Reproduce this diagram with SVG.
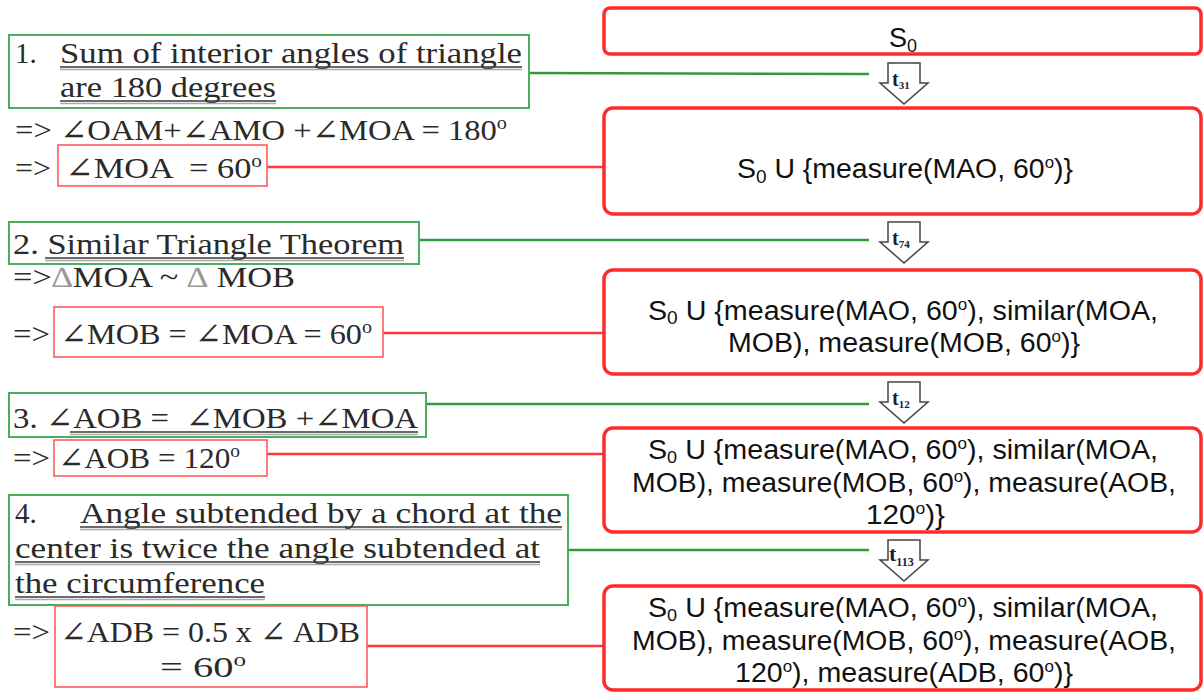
<svg xmlns="http://www.w3.org/2000/svg" width="1203" height="694" viewBox="0 0 1203 694">
<style>
.serif{font-family:"Liberation Serif","DejaVu Serif",serif;font-size:29px;fill:#2a2a2a}
.sans{font-family:"Liberation Sans",Arial,sans-serif;font-size:27px;fill:#111}
.gbox{fill:none;stroke:#4cae5a;stroke-width:2}
.rbox{fill:none;stroke:#ff5a5a;stroke-width:1.6}
.state{fill:#fff;stroke:#ff2a2a;stroke-width:3.5}
.gline{stroke:#2f9a3c;stroke-width:2.5;fill:none}
.rline{stroke:#ff3a3a;stroke-width:2.5;fill:none}
.ul{stroke:#3a3a3a;stroke-width:1.6}
.ul2{stroke:#aaa;stroke-width:1.4}
.barrow{fill:#fff;stroke:#444;stroke-width:1.5;stroke-linejoin:miter}
.tl{font-family:"Liberation Serif","DejaVu Serif",serif;font-weight:bold;fill:#1c1c3a}
.tri{fill:#999}
</style>
<defs>
<path id="barrow" class="barrow" d="M8,0 H40 V20 H48 L24,41 L0,20 H8 Z"/>
</defs>

<g id="connectors">
<path class="gline" d="M529,73 L869,74"/>
<path class="gline" d="M419,240 H869"/>
<path class="gline" d="M426,404 H869"/>
<path class="gline" d="M568,550 H869"/>
<path class="rline" d="M267,167 H604"/>
<path class="rline" d="M383,333 H604"/>
<path class="rline" d="M267,454 H604"/>
<path class="rline" d="M367,646 H604"/>
<g id="t31"><use href="#barrow" x="880" y="63"/><text class="tl" x="892" y="86" font-size="20">t<tspan font-size="11" dy="3">31</tspan></text></g>
<g id="t74"><use href="#barrow" x="880" y="222"/><text class="tl" x="892" y="245" font-size="20">t<tspan font-size="11" dy="3">74</tspan></text></g>
<g id="t12"><use href="#barrow" x="880" y="382"/><text class="tl" x="892" y="405" font-size="20">t<tspan font-size="11" dy="3">12</tspan></text></g>
<g id="t113"><use href="#barrow" x="880" y="540"/><text class="tl" x="889" y="561" font-size="22">t<tspan font-size="12" dy="5">113</tspan></text></g>
</g>

<g id="state0">
<rect class="state" x="604" y="8" width="597" height="46" rx="6"/>
<text class="sans" x="903" y="47" text-anchor="middle" font-size="28">S<tspan font-size="18" dy="5">0</tspan></text>
</g>
<g id="state1">
<rect class="state" x="604" y="108" width="597" height="106" rx="9"/>
<text class="sans" x="737" y="178" textLength="336" lengthAdjust="spacingAndGlyphs">S<tspan font-size="18" dy="5">0</tspan><tspan dy="-5"> U {measure(MAO, 60</tspan><tspan font-size="16" dy="-10">o</tspan><tspan dy="10">)}</tspan></text>
</g>
<g id="state2">
<rect class="state" x="604" y="270" width="597" height="104" rx="9"/>
<text class="sans" x="648" y="320" textLength="510" lengthAdjust="spacingAndGlyphs">S<tspan font-size="18" dy="4">0</tspan><tspan dy="-4"> U {measure(MAO, 60</tspan><tspan font-size="16" dy="-10">o</tspan><tspan dy="10">), similar(MOA,</tspan></text>
<text class="sans" x="728" y="352" textLength="352" lengthAdjust="spacingAndGlyphs">MOB), measure(MOB, 60<tspan font-size="16" dy="-10">o</tspan><tspan dy="10">)}</tspan></text>
</g>
<g id="state3">
<rect class="state" x="604" y="428" width="597" height="104" rx="9"/>
<text class="sans" x="648" y="459" textLength="510" lengthAdjust="spacingAndGlyphs">S<tspan font-size="17" dy="4">0</tspan><tspan dy="-4"> U {measure(MAO, 60</tspan><tspan font-size="16" dy="-10">o</tspan><tspan dy="10">), similar(MOA,</tspan></text>
<text class="sans" x="632" y="492" textLength="544" lengthAdjust="spacingAndGlyphs">MOB), measure(MOB, 60<tspan font-size="16" dy="-10">o</tspan><tspan dy="10">), measure(AOB,</tspan></text>
<text class="sans" x="866" y="524" textLength="79" lengthAdjust="spacingAndGlyphs">120<tspan font-size="16" dy="-10">o</tspan><tspan dy="10">)}</tspan></text>
</g>
<g id="state4">
<rect class="state" x="604" y="586" width="597" height="104" rx="9"/>
<text class="sans" x="648" y="617" textLength="510" lengthAdjust="spacingAndGlyphs">S<tspan font-size="17" dy="4">0</tspan><tspan dy="-4"> U {measure(MAO, 60</tspan><tspan font-size="16" dy="-10">o</tspan><tspan dy="10">), similar(MOA,</tspan></text>
<text class="sans" x="632" y="650" textLength="544" lengthAdjust="spacingAndGlyphs">MOB), measure(MOB, 60<tspan font-size="16" dy="-10">o</tspan><tspan dy="10">), measure(AOB,</tspan></text>
<text class="sans" x="735" y="682" textLength="338" lengthAdjust="spacingAndGlyphs">120<tspan font-size="16" dy="-10">o</tspan><tspan dy="10">), measure(ADB, 60</tspan><tspan font-size="16" dy="-10">o</tspan><tspan dy="10">)}</tspan></text>
</g>

<g id="rule1">
<rect class="gbox" x="9" y="35" width="520" height="73"/>
<text class="serif" x="15" y="63">1.</text>
<text class="serif" x="60" y="63" textLength="462" lengthAdjust="spacingAndGlyphs">Sum of interior angles of triangle</text>
<line class="ul" x1="60" y1="67" x2="522" y2="67"/><line class="ul2" x1="60" y1="69.5" x2="522" y2="69.5"/>
<text class="serif" x="60" y="97" textLength="216" lengthAdjust="spacingAndGlyphs">are 180 degrees</text>
<line class="ul" x1="60" y1="101" x2="276" y2="101"/><line class="ul2" x1="60" y1="103.5" x2="276" y2="103.5"/>
</g>
<g id="step1">
<text class="serif" x="15" y="140" textLength="492" lengthAdjust="spacingAndGlyphs">=&gt; ∠OAM+∠AMO +∠MOA = 180<tspan font-size="18" dy="-11">o</tspan></text>
<text class="serif" x="15" y="178" textLength="36" lengthAdjust="spacingAndGlyphs">=&gt;</text>
</g>
<g id="result1">
<rect class="rbox" x="58" y="145" width="209" height="41"/>
<text class="serif" x="65" y="178" textLength="197" lengthAdjust="spacingAndGlyphs">∠MOA &#160;= 60<tspan font-size="18" dy="-11">o</tspan></text>
</g>

<g id="rule2">
<rect class="gbox" x="9" y="222" width="410" height="42"/>
<text class="serif" x="13" y="254" textLength="391" lengthAdjust="spacingAndGlyphs">2. Similar Triangle Theorem</text>
<line class="ul" x1="45" y1="258" x2="404" y2="258"/><line class="ul2" x1="45" y1="260.5" x2="404" y2="260.5"/>
</g>
<g id="step2">
<text class="serif" x="13" y="287" textLength="282" lengthAdjust="spacingAndGlyphs">=&gt;<tspan class="tri">∆</tspan>MOA ~ <tspan class="tri">∆</tspan> MOB</text>
<text class="serif" x="13" y="344" textLength="37" lengthAdjust="spacingAndGlyphs">=&gt;</text>
</g>
<g id="result2">
<rect class="rbox" x="54" y="307" width="329" height="50"/>
<text class="serif" x="60" y="344" textLength="312" lengthAdjust="spacingAndGlyphs">∠MOB = ∠MOA = 60<tspan font-size="18" dy="-11">o</tspan></text>
</g>

<g id="rule3">
<rect class="gbox" x="9" y="393" width="417" height="44"/>
<text class="serif" x="13" y="428" textLength="405" lengthAdjust="spacingAndGlyphs">3. ∠AOB = &#160;∠MOB +∠MOA</text>
<line class="ul" x1="70" y1="432" x2="418" y2="432"/><line class="ul2" x1="70" y1="434.5" x2="418" y2="434.5"/>
</g>
<g id="step3">
<text class="serif" x="13" y="468" textLength="37" lengthAdjust="spacingAndGlyphs">=&gt;</text>
</g>
<g id="result3">
<rect class="rbox" x="54" y="440" width="213" height="36"/>
<text class="serif" x="58" y="468" textLength="182" lengthAdjust="spacingAndGlyphs">∠AOB = 120<tspan font-size="18" dy="-11">o</tspan></text>
</g>

<g id="rule4">
<rect class="gbox" x="9" y="495" width="559" height="110"/>
<text class="serif" x="15" y="523">4.</text>
<text class="serif" x="80" y="523" textLength="482" lengthAdjust="spacingAndGlyphs">Angle subtended by a chord at the</text>
<line class="ul" x1="80" y1="527" x2="562" y2="527"/><line class="ul2" x1="80" y1="529.5" x2="562" y2="529.5"/>
<text class="serif" x="15" y="558" textLength="525" lengthAdjust="spacingAndGlyphs">center is twice the angle subtended at</text>
<line class="ul" x1="15" y1="562" x2="540" y2="562"/><line class="ul2" x1="15" y1="564.5" x2="540" y2="564.5"/>
<text class="serif" x="15" y="593" textLength="250" lengthAdjust="spacingAndGlyphs">the circumference</text>
<line class="ul" x1="15" y1="597" x2="265" y2="597"/><line class="ul2" x1="15" y1="599.5" x2="265" y2="599.5"/>
</g>
<g id="step4">
<text class="serif" x="13" y="642" textLength="37" lengthAdjust="spacingAndGlyphs">=&gt;</text>
</g>
<g id="result4">
<rect class="rbox" x="55" y="606" width="312" height="81"/>
<text class="serif" x="60" y="642" textLength="300" lengthAdjust="spacingAndGlyphs">∠ADB = 0.5 x ∠ ADB</text>
<text class="serif" x="160" y="677" textLength="86" lengthAdjust="spacingAndGlyphs">= 60<tspan font-size="18" dy="-11">o</tspan></text>
</g>
</svg>
